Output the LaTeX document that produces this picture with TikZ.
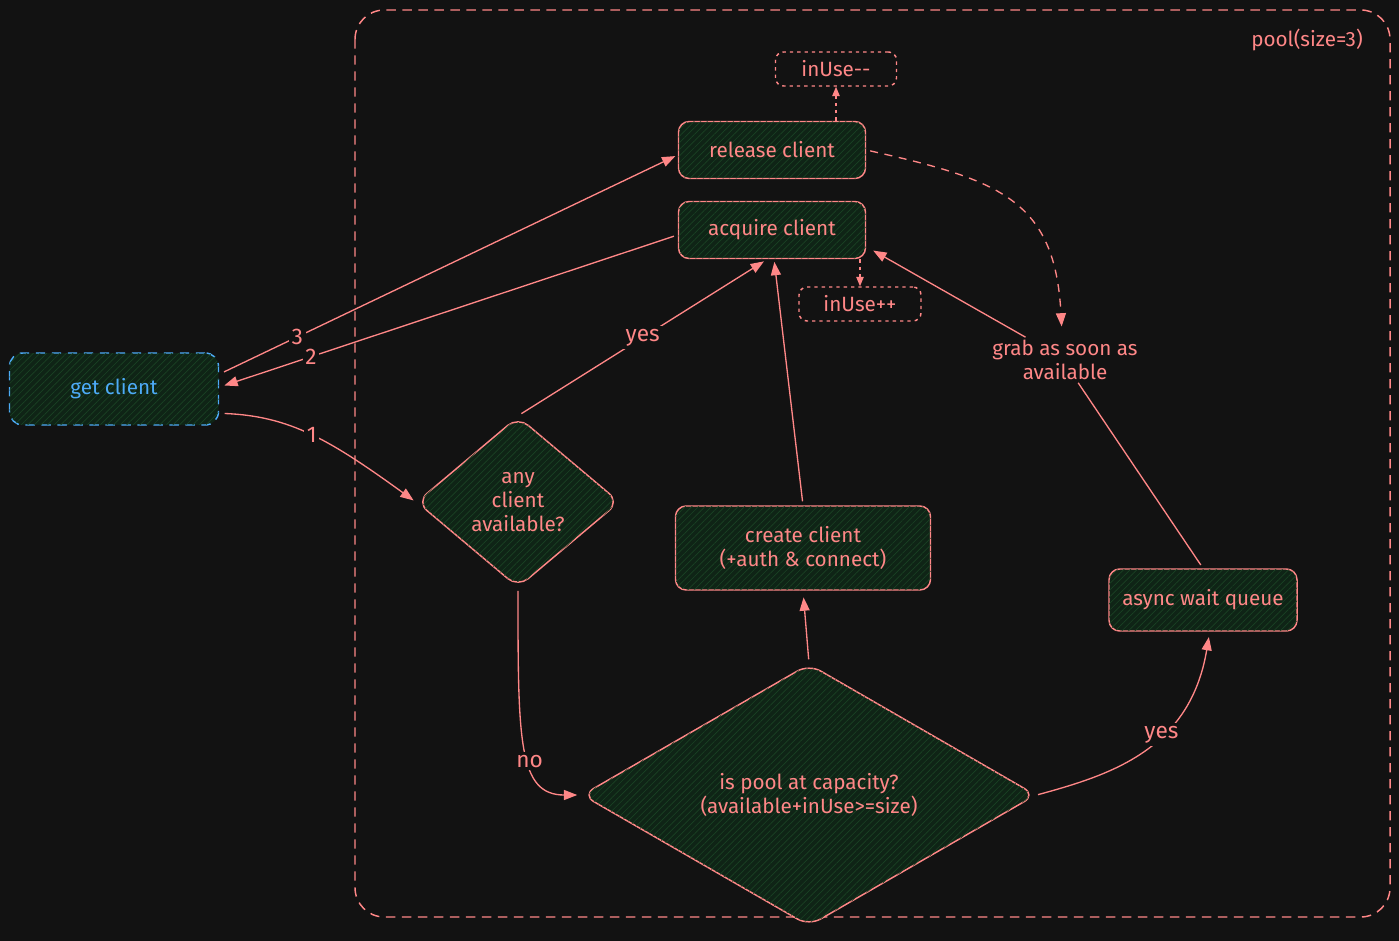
\documentclass[tikz,border=0pt]{standalone}
\usepackage{fontspec}
\setmainfont{Fira Sans}
\usetikzlibrary{arrows.meta,shapes.geometric,patterns.meta}
\definecolor{bg}{HTML}{121212}
\definecolor{sal}{HTML}{FF8787}
\definecolor{blu}{HTML}{4DABF7}
\definecolor{boxfill}{HTML}{0F2416}
\definecolor{hatch}{HTML}{1A4224}
\begin{document}
\begin{tikzpicture}[x=0.75pt,y=-0.75pt,
  font=\fontsize{15.5}{18}\selectfont,
  hatchfill/.style={fill=boxfill, postaction={pattern={Lines[angle=45,distance=3.5pt,line width=0.5pt]},pattern color=hatch}},
  box/.style={draw=sal, line width=1.1pt, rounded corners=8pt, hatchfill, text=sal, align=center, inner sep=0pt},
  dia/.style={draw=sal, line width=1.1pt, diamond, rounded corners=10pt, hatchfill, text=sal, align=center, inner sep=0pt},
  dotbox/.style={draw=sal, line width=1.1pt, rounded corners=6pt, dash pattern=on 2.5pt off 3pt, text=sal, inner sep=0pt},
  arr/.style={draw=sal, line width=1pt, -{Triangle[length=10pt,width=7.5pt]}},
  sarr/.style={draw=sal, line width=1pt, -{Triangle[length=7pt,width=5.5pt]}, dash pattern=on 2.5pt off 3pt},
  lab/.style={fill=bg, text=sal, inner sep=2pt, font=\fontsize{17}{19}\selectfont},
  plain/.style={text=sal, align=center, inner sep=2pt}
]
\fill[bg] (0,0) rectangle (1399,941);
\useasboundingbox (0,0) rectangle (1399,941);

% pool container
\draw[sal, line width=1.1pt, rounded corners=22pt, dash pattern=on 7pt off 5pt] (355,10) rectangle (1390,917);
\node[plain] (pool) at (1307,40) {pool(size=3)};

% nodes
\node[dotbox, minimum width=121*0.75pt, minimum height=34*0.75pt] (dec) at (836,69) {inUse{-}{-}};
\node[box, minimum width=187*0.75pt, minimum height=57*0.75pt] (rel) at (772,150) {release client};
\node[box, minimum width=187*0.75pt, minimum height=57*0.75pt] (acq) at (772,230) {acquire client};
\node[dotbox, minimum width=122*0.75pt, minimum height=34*0.75pt] (inc) at (860,304) {inUse++};
\node[box, draw=blu, text=blu, dash pattern=on 7pt off 5pt, rounded corners=10pt, minimum width=209*0.75pt, minimum height=72*0.75pt] (get) at (114,389) {get client};
\node[dia, minimum width=203*0.75pt, minimum height=171*0.75pt, aspect=1.19] (any) at (518,502) {any\\client\\available?};
\node[box, minimum width=255*0.75pt, minimum height=84*0.75pt] (cre) at (803,548) {create client\\(+auth \& connect)};
\node[dia, minimum width=454*0.75pt, minimum height=262*0.75pt, aspect=1.76] (cap) at (809,795) {is pool at capacity?\\(available+inUse>=size)};
\node[box, minimum width=188*0.75pt, minimum height=62*0.75pt] (asy) at (1203,600) {async wait queue};
\node[plain] (grab) at (1065,360) {grab as soon as\\available};

% connectors
\draw[sarr] (rel.north -| dec.south) -- (dec.south);
\draw[sarr] (acq.south -| inc.north) -- (inc.north);
\draw[arr, shorten <=4pt, shorten >=2pt] (get.8) -- (rel.-177) node[lab, pos=0.17] {3};
\draw[arr, shorten <=3pt, shorten >=4pt] (acq.-177) -- (get.1) node[lab, pos=0.8] {2};
\draw[arr, shorten <=4pt, shorten >=2pt] (get.-13) .. controls (290,416) and (330,440) .. (any.west) node[lab, pos=0.5] {1};
\draw[arr, shorten <=3pt, shorten >=3pt] (any.north) -- (acq.-99) node[lab, pos=0.5] {yes};
\draw[arr, shorten <=2pt, shorten >=3pt] (any.south) .. controls (518,740) and (518,795) .. (cap.west) node[lab, pos=0.57] {no};
\draw[arr, shorten <=3pt, shorten >=5pt] (cap.north) -- (cre.south);
\draw[arr, shorten <=3pt, shorten >=2pt] (cre.north) -- (acq.-86);
\draw[arr, shorten <=1pt, shorten >=4pt] (cap.east) .. controls (1110,775) and (1190,750) .. (asy.-78) node[lab, pos=0.6] {yes};
\draw[sal, line width=1pt, shorten <=3pt] (asy.north) -- (grab.-60);
\draw[arr, shorten >=6pt] (grab.150) -- (acq.-10);
\draw[arr, dash pattern=on 6pt off 5pt, shorten <=3pt, shorten >=8pt] (rel.east) .. controls (1000,180) and (1055,200) .. (grab.97);
\end{tikzpicture}
\end{document}
